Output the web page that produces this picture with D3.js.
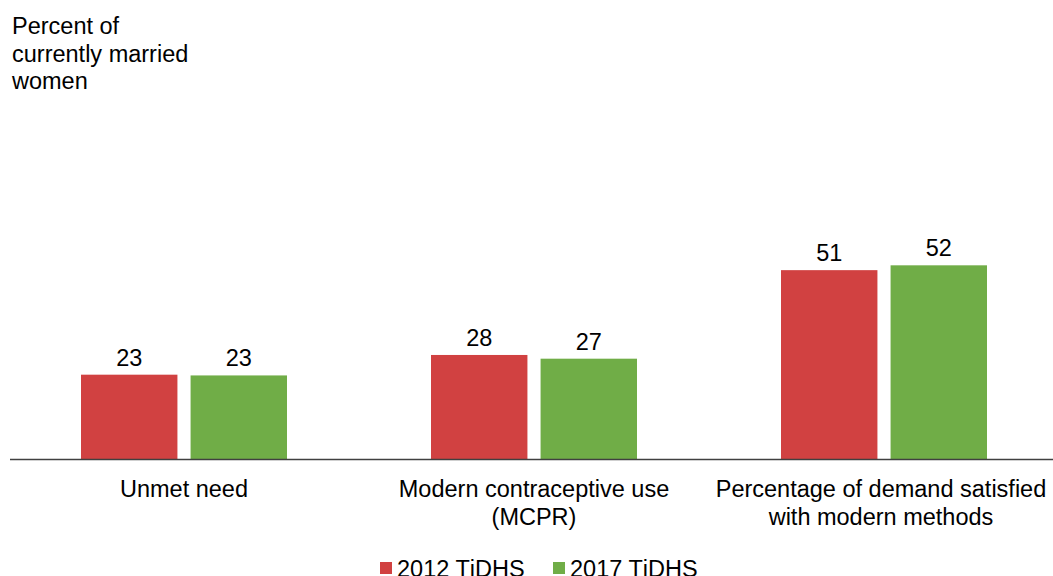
<!DOCTYPE html>
<html><head><meta charset="utf-8">
<script src="https://cdn.jsdelivr.net/npm/d3@7"></script>
<style>body{margin:0;background:#fff}svg{display:block;font-family:"Liberation Sans",Arial,sans-serif}</style>
</head><body><svg id="c" width="1053" height="576"></svg>
<script>
const categories = [["Unmet need"], ["Modern contraceptive use", "(MCPR)"], ["Percentage of demand satisfied", "with modern methods"]];
const seriesNames = ["2012 TjDHS", "2017 TjDHS"];
const values2012 = [22.8, 28.1, 50.9];
const values2017 = [22.6, 27.1, 52.2];
const colors = ["#D14141", "#70AD47"];
const yTitle = ["Percent of", "currently married", "women"];

const FS = 23.5;
const svg = d3.select("#c");
const baseY = 459.5;
const x = d3.scaleBand().domain(d3.range(categories.length)).range([9, 1059]).paddingInner(0).paddingOuter(0);
const xs = d3.scaleBand().domain([0, 1]).range([-103, 103]).paddingInner(0.12).paddingOuter(0);
const y = d3.scaleLinear().domain([0, 100]).range([baseY, baseY - 372]);

const series = [values2012, values2017];
series.forEach((vals, si) => {
  const g = svg.append("g");
  g.selectAll("rect").data(vals).join("rect")
    .attr("x", (d, i) => x(i) + x.bandwidth() / 2 + xs(si))
    .attr("width", xs.bandwidth())
    .attr("y", d => y(d))
    .attr("height", d => baseY - y(d))
    .attr("fill", colors[si]);
  g.selectAll("text").data(vals).join("text")
    .attr("x", (d, i) => x(i) + x.bandwidth() / 2 + xs(si) + xs.bandwidth() / 2)
    .attr("y", d => y(d) - 9)
    .attr("text-anchor", "middle").attr("font-size", FS).attr("fill", "#000")
    .text(d => d3.format(".0f")(d));
});

svg.append("line").attr("x1", 10).attr("x2", 1053).attr("y1", baseY).attr("y2", baseY)
  .attr("stroke", "#404040").attr("stroke-width", 1.3);

categories.forEach((lines, i) => {
  const t = svg.append("text").attr("text-anchor", "middle").attr("font-size", FS).attr("fill", "#000");
  lines.forEach((l, j) => t.append("tspan").attr("x", x(i) + x.bandwidth() / 2 - (i === 2 ? 3 : 0)).attr("y", 497 + j * 28).text(l));
});

const tt = svg.append("text").attr("font-size", FS).attr("fill", "#000");
yTitle.forEach((l, j) => tt.append("tspan").attr("x", 12).attr("y", 34 + j * 27.5).text(l));

const legX = [380, 553];
seriesNames.forEach((n, i) => {
  svg.append("rect").attr("x", legX[i]).attr("y", 562).attr("width", 12).attr("height", 12).attr("fill", colors[i]);
  svg.append("text").attr("x", legX[i] + 17).attr("y", 577).attr("font-size", FS).attr("fill", "#000").text(n);
});
</script></body></html>
